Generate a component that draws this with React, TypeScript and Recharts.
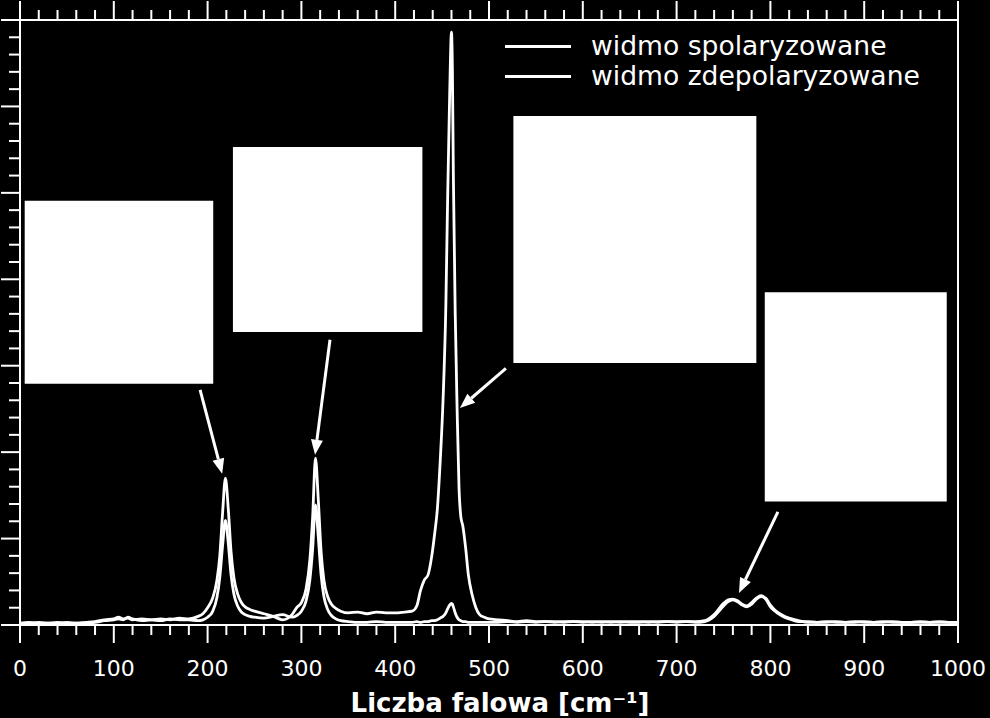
import { LineChart, Line, XAxis, YAxis, Legend, ReferenceArea, ReferenceLine } from "recharts";

const WAVENUMBER = [
  0, 10, 20, 30, 40, 50, 60, 70, 80, 90,
  100, 105, 110, 115, 120, 130, 140, 150, 160, 170,
  180, 190, 195, 200, 205, 210, 213, 216, 219, 222,
  225, 228, 232, 236, 240, 245, 250, 260, 270, 280,
  290, 295, 300, 305, 309, 312, 315, 318, 321, 324,
  328, 332, 337, 342, 350, 360, 370, 380, 390, 400,
  410, 418, 423, 427, 431, 435, 439, 442, 445, 448,
  451, 454, 456, 458, 460, 461, 462, 464, 466, 468,
  470, 472, 475, 478, 482, 486, 490, 495, 500, 510,
  520, 530, 540, 550, 560, 570, 580, 590, 600, 610,
  620, 630, 640, 650, 660, 670, 680, 690, 700, 710,
  720, 730, 740, 750, 755, 760, 765, 770, 775, 780,
  785, 790, 795, 800, 805, 810, 815, 820, 830, 840,
  850, 860, 870, 880, 890, 900, 910, 920, 930, 940,
  950, 960, 970, 980, 990, 1000,
];

// widmo spolaryzowane
const POLARIZED = [
  0.02, 0.03, 0.02, 0.02, 0.03, 0.02, 0.02, 0.03, 0.04, 0.06,
  0.07, 0.09, 0.07, 0.08, 0.06, 0.07, 0.06, 0.07, 0.06, 0.08,
  0.07, 0.1, 0.13, 0.2, 0.3, 0.52, 0.8, 1.3, 1.7, 1.35,
  0.85, 0.55, 0.36, 0.26, 0.21, 0.18, 0.16, 0.13, 0.1, 0.06,
  0.12, 0.2, 0.26, 0.42, 0.75, 1.25, 1.93, 1.45, 0.85, 0.52,
  0.33, 0.24, 0.19, 0.16, 0.14, 0.15, 0.13, 0.15, 0.14, 0.14,
  0.15, 0.16, 0.22, 0.4, 0.52, 0.58, 0.8, 1.05, 1.35, 1.9,
  2.6, 3.7, 5.0, 6.1, 6.86, 6.4, 5.2, 3.6, 2.5, 1.6,
  1.25, 1.15, 0.9, 0.58, 0.35, 0.2, 0.12, 0.09, 0.07, 0.06,
  0.05, 0.04, 0.05, 0.04, 0.04, 0.03, 0.04, 0.04, 0.03, 0.04,
  0.03, 0.04, 0.03, 0.04, 0.04, 0.03, 0.04, 0.04, 0.04, 0.04,
  0.04, 0.05, 0.12, 0.25, 0.29, 0.3, 0.28, 0.24, 0.22, 0.26,
  0.31, 0.34, 0.3, 0.21, 0.16, 0.12, 0.09, 0.07, 0.04, 0.04,
  0.03, 0.03, 0.04, 0.03, 0.03, 0.04, 0.03, 0.03, 0.04, 0.03,
  0.03, 0.04, 0.03, 0.03, 0.03, 0.03,
];

// widmo zdepolaryzowane
const DEPOLARIZED = [
  0.02, 0.02, 0.03, 0.02, 0.02, 0.03, 0.02, 0.02, 0.03, 0.05,
  0.06, 0.07, 0.06, 0.09, 0.07, 0.05, 0.06, 0.05, 0.07, 0.06,
  0.06, 0.05, 0.06, 0.09, 0.15, 0.32, 0.55, 0.92, 1.21, 0.95,
  0.58, 0.36, 0.22, 0.15, 0.12, 0.1, 0.09, 0.08, 0.1, 0.12,
  0.09, 0.11, 0.16, 0.28, 0.52, 0.88, 1.39, 1.02, 0.58, 0.33,
  0.18, 0.11, 0.07, 0.05, 0.04, 0.03, 0.03, 0.04, 0.03, 0.03,
  0.03, 0.03, 0.04, 0.03, 0.04, 0.04, 0.05, 0.05, 0.06, 0.08,
  0.1, 0.14, 0.19, 0.23, 0.25, 0.24, 0.21, 0.14, 0.09, 0.06,
  0.05, 0.04, 0.04, 0.03, 0.03, 0.03, 0.03, 0.03, 0.03, 0.03,
  0.04, 0.03, 0.04, 0.03, 0.04, 0.04, 0.03, 0.04, 0.04, 0.03,
  0.04, 0.03, 0.04, 0.03, 0.03, 0.04, 0.03, 0.04, 0.03, 0.04,
  0.03, 0.04, 0.1, 0.22, 0.27, 0.29, 0.27, 0.23, 0.21, 0.24,
  0.3, 0.33, 0.31, 0.23, 0.17, 0.13, 0.1, 0.08, 0.05, 0.03,
  0.03, 0.04, 0.03, 0.03, 0.04, 0.03, 0.03, 0.04, 0.03, 0.03,
  0.03, 0.03, 0.03, 0.04, 0.03, 0.03,
];

const X_TICKS = Array.from({ length: 51 }, (_, i) => i * 20);
const Y_TICKS = Array.from({ length: 36 }, (_, i) => i / 5);

// white label boxes (data units)
const BOXES = [
  { x1: 5, x2: 206, y1: 2.79, y2: 4.91 },
  { x1: 227, x2: 429, y1: 3.39, y2: 5.53 },
  { x1: 526, x2: 785, y1: 3.03, y2: 5.89 },
  { x1: 794, x2: 988, y1: 1.43, y2: 3.85 },
];

const ARROWS = [
  { from: { x: 192, y: 2.72 }, to: { x: 215.5, y: 1.75 } },
  { from: { x: 330.5, y: 3.3 }, to: { x: 314.5, y: 1.97 } },
  { from: { x: 518, y: 2.97 }, to: { x: 469, y: 2.51 } },
  { from: { x: 808, y: 1.31 }, to: { x: 766.5, y: 0.37 } },
];

const FONT = "'DejaVu Sans', sans-serif";
const WHITE = "#ffffff";

const data = WAVENUMBER.map((x, i) => ({
  x,
  pol: POLARIZED[i],
  depol: DEPOLARIZED[i],
}));

const isMajorY = (v: number) => Math.round(v * 5) % 5 === 0;

function BottomTick({ x, y, payload }: any) {
  const major = payload.value % 100 === 0;
  return (
    <g>
      <line x1={x} x2={x} y1={y} y2={y + (major ? 18 : 10)} stroke={WHITE} strokeWidth={2} />
      {major && (
        <text x={x} y={y + 51} textAnchor="middle" fill={WHITE} fontSize={22} fontFamily={FONT}>
          {payload.value}
        </text>
      )}
    </g>
  );
}

function TopTick({ x, y, payload }: any) {
  const major = payload.value % 100 === 0;
  return <line x1={x} x2={x} y1={y} y2={y - (major ? 19 : 10)} stroke={WHITE} strokeWidth={2} />;
}

function LeftTick({ x, y, payload }: any) {
  return <line x1={x} x2={x - (isMajorY(payload.value) ? 19 : 11)} y1={y} y2={y} stroke={WHITE} strokeWidth={2} />;
}

function RightTick({ x, y, payload }: any) {
  return <line x1={x} x2={x + (isMajorY(payload.value) ? 18 : 11)} y1={y} y2={y} stroke={WHITE} strokeWidth={2} />;
}

function AxisTitle({ viewBox }: any) {
  return (
    <text
      x={viewBox.x + viewBox.width / 2 + 11}
      y={712}
      textAnchor="middle"
      fill={WHITE}
      fontSize={26}
      fontWeight="bold"
      fontFamily={FONT}
    >
      Liczba falowa [cm⁻¹]
    </text>
  );
}

function Arrow(props: any) {
  const { x1, y1, x2, y2 } = props;
  const ang = Math.atan2(y2 - y1, x2 - x1);
  const len = 15;
  const half = 6;
  const bx = x2 - len * Math.cos(ang);
  const by = y2 - len * Math.sin(ang);
  const px = -Math.sin(ang) * half;
  const py = Math.cos(ang) * half;
  return (
    <g>
      <line x1={x1} y1={y1} x2={bx} y2={by} stroke={WHITE} strokeWidth={3} />
      <polygon points={`${x2},${y2} ${bx + px},${by + py} ${bx - px},${by - py}`} fill={WHITE} />
    </g>
  );
}

function LegendBox({ payload }: any) {
  return (
    <div style={{ fontFamily: FONT, color: WHITE }}>
      {(payload || []).map((item: any) => (
        <div key={item.value} style={{ display: "flex", alignItems: "center", height: 30 }}>
          <div style={{ width: 66, height: 3, background: WHITE, marginRight: 20 }} />
          <span style={{ fontSize: 26.6, lineHeight: "30px", whiteSpace: "nowrap" }}>{item.value}</span>
        </div>
      ))}
    </div>
  );
}

export default function App() {
  return (
    <div style={{ position: "fixed", left: 0, top: 0, width: 990, height: 718, background: "#000" }}>
      <LineChart width={990} height={718} data={data} margin={{ top: 0, right: 0, bottom: 0, left: 0 }}>
        <XAxis
          xAxisId="bottom"
          dataKey="x"
          type="number"
          domain={[0, 1000]}
          ticks={X_TICKS}
          interval={0}
          height={93}
          tickSize={0}
          tickMargin={0}
          tickLine={false}
          tick={BottomTick}
          axisLine={{ stroke: WHITE, strokeWidth: 2 }}
          label={(p: any) => <AxisTitle {...p} />}
        />
        <XAxis
          xAxisId="top"
          orientation="top"
          dataKey="x"
          type="number"
          domain={[0, 1000]}
          ticks={X_TICKS}
          interval={0}
          height={20}
          tickSize={0}
          tickMargin={0}
          tickLine={false}
          tick={TopTick}
          axisLine={{ stroke: WHITE, strokeWidth: 2 }}
        />
        <YAxis
          yAxisId="left"
          type="number"
          domain={[0, 7]}
          ticks={Y_TICKS}
          interval={0}
          width={20}
          tickSize={0}
          tickMargin={0}
          tickLine={false}
          tick={LeftTick}
          axisLine={{ stroke: WHITE, strokeWidth: 2 }}
        />
        <YAxis
          yAxisId="right"
          orientation="right"
          type="number"
          domain={[0, 7]}
          ticks={Y_TICKS}
          interval={0}
          width={32}
          tickSize={0}
          tickMargin={0}
          tickLine={false}
          tick={RightTick}
          axisLine={{ stroke: WHITE, strokeWidth: 2 }}
        />
        <Legend
          layout="vertical"
          align="center"
          verticalAlign="middle"
          content={LegendBox}
          wrapperStyle={{ position: "absolute", left: 505, top: 31, width: "auto" }}
        />
        <Line
          xAxisId="bottom"
          yAxisId="left"
          name="widmo spolaryzowane"
          dataKey="pol"
          type="monotone"
          stroke={WHITE}
          strokeWidth={2.8}
          dot={false}
          isAnimationActive={false}
        />
        <Line
          xAxisId="bottom"
          yAxisId="left"
          name="widmo zdepolaryzowane"
          dataKey="depol"
          type="monotone"
          stroke={WHITE}
          strokeWidth={2.8}
          dot={false}
          isAnimationActive={false}
        />
        {BOXES.map((b, i) => (
          <ReferenceArea
            key={"box" + i}
            xAxisId="bottom"
            yAxisId="left"
            x1={b.x1}
            x2={b.x2}
            y1={b.y1}
            y2={b.y2}
            fill={WHITE}
            fillOpacity={1}
            stroke="none"
          />
        ))}
        {ARROWS.map((a, i) => (
          <ReferenceLine
            key={"arrow" + i}
            xAxisId="bottom"
            yAxisId="left"
            segment={[a.from, a.to]}
            shape={Arrow}
          />
        ))}
      </LineChart>
    </div>
  );
}
